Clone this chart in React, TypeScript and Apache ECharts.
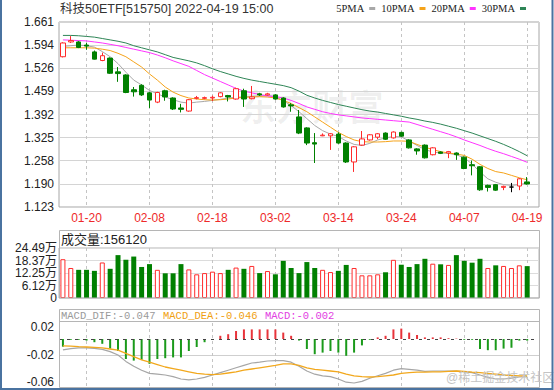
import React, { useEffect, useRef } from "react";
import * as echarts from "echarts";

// ---------- data ----------
const dates = [
  "01-17","01-18","01-19","01-20","01-21","01-24","01-25","01-26","01-27","01-28",
  "02-07","02-08","02-09","02-10","02-11","02-14","02-15","02-16","02-17","02-18",
  "02-21","02-22","02-23","02-24","02-25","02-28","03-01","03-02","03-03","03-04",
  "03-07","03-08","03-09","03-10","03-11","03-14","03-15","03-16","03-17","03-18",
  "03-21","03-22","03-23","03-24","03-25","03-28","03-29","03-30","03-31","04-01",
  "04-06","04-07","04-08","04-11","04-12","04-13","04-14","04-15","04-18","04-19",
];

// [open, close, low, high]
const candles = [
  [1.560,1.600,1.558,1.602],[1.603,1.607,1.600,1.620],[1.603,1.587,1.585,1.606],[1.594,1.591,1.580,1.600],
  [1.574,1.553,1.552,1.578],[1.549,1.563,1.547,1.572],[1.556,1.512,1.510,1.558],[1.516,1.511,1.487,1.530],
  [1.507,1.456,1.454,1.509],[1.464,1.458,1.444,1.472],[1.477,1.449,1.446,1.480],[1.455,1.434,1.411,1.458],
  [1.428,1.456,1.425,1.458],[1.461,1.443,1.432,1.464],[1.440,1.408,1.405,1.442],[1.411,1.407,1.398,1.423],
  [1.402,1.435,1.400,1.437],[1.439,1.441,1.436,1.446],[1.439,1.441,1.436,1.444],[1.440,1.442,1.431,1.447],
  [1.444,1.455,1.442,1.457],[1.447,1.443,1.430,1.449],[1.437,1.467,1.435,1.470],[1.461,1.437,1.414,1.467],
  [1.438,1.443,1.436,1.475],[1.452,1.449,1.446,1.455],[1.449,1.452,1.447,1.455],[1.449,1.437,1.435,1.451],
  [1.440,1.414,1.412,1.442],[1.420,1.417,1.400,1.425],[1.385,1.338,1.335,1.405],[1.353,1.309,1.303,1.355],
  [1.310,1.306,1.251,1.338],[1.330,1.332,1.329,1.337],[1.330,1.336,1.289,1.338],[1.335,1.309,1.307,1.340],
  [1.309,1.254,1.251,1.311],[1.254,1.298,1.225,1.300],[1.303,1.321,1.301,1.344],[1.318,1.333,1.316,1.335],
  [1.326,1.336,1.320,1.338],[1.338,1.320,1.318,1.340],[1.324,1.341,1.322,1.343],[1.340,1.329,1.327,1.342],
  [1.318,1.295,1.293,1.320],[1.292,1.286,1.275,1.294],[1.303,1.266,1.264,1.305],[1.275,1.295,1.273,1.297],
  [1.283,1.279,1.277,1.285],[1.280,1.284,1.265,1.286],[1.280,1.275,1.260,1.282],[1.268,1.235,1.233,1.270],
  [1.246,1.243,1.215,1.258],[1.240,1.173,1.170,1.242],[1.186,1.180,1.168,1.188],[1.188,1.172,1.170,1.190],
  [1.180,1.183,1.172,1.185],[1.181,1.181,1.166,1.193],[1.184,1.205,1.172,1.207],[1.196,1.190,1.188,1.210],
];

const ma5 = [1.590,1.592,1.594,1.592,1.588,1.575,1.560,1.540,1.515,1.492,1.478,1.462,1.452,1.443,1.435,1.428,1.425,1.428,1.430,1.433,
  1.436,1.440,1.442,1.443,1.445,1.446,1.447,1.444,1.432,1.418,1.400,1.380,1.360,1.345,1.335,1.328,1.315,1.305,1.302,1.308,
  1.318,1.324,1.328,1.327,1.315,1.302,1.290,1.283,1.280,1.279,1.275,1.266,1.248,1.225,1.205,1.195,1.188,1.186,1.188,1.193];
const ma10 = [1.586,1.586,1.586,1.586,1.585,1.582,1.578,1.570,1.560,1.545,1.530,1.510,1.492,1.472,1.457,1.447,1.440,1.437,1.435,1.434,
  1.435,1.437,1.440,1.442,1.443,1.444,1.443,1.440,1.433,1.424,1.412,1.400,1.385,1.370,1.355,1.340,1.328,1.318,1.313,1.312,
  1.312,1.313,1.315,1.315,1.314,1.305,1.297,1.290,1.284,1.280,1.277,1.273,1.262,1.247,1.235,1.226,1.222,1.215,1.208,1.202];
const ma20 = [1.609,1.608,1.607,1.606,1.603,1.600,1.596,1.592,1.587,1.582,1.577,1.572,1.565,1.557,1.548,1.540,1.532,1.520,1.508,1.498,
  1.488,1.478,1.468,1.460,1.455,1.450,1.446,1.444,1.440,1.433,1.424,1.414,1.407,1.400,1.395,1.391,1.388,1.385,1.382,1.380,
  1.378,1.376,1.374,1.372,1.370,1.363,1.356,1.349,1.342,1.335,1.327,1.318,1.310,1.302,1.293,1.285,1.278,1.270,1.262,1.253];
const ma30 = [1.622,1.622,1.621,1.619,1.617,1.613,1.609,1.605,1.600,1.592,1.586,1.580,1.574,1.566,1.558,1.553,1.548,1.542,1.534,1.525,
  1.517,1.510,1.503,1.497,1.492,1.488,1.484,1.480,1.476,1.470,1.460,1.448,1.440,1.433,1.427,1.421,1.416,1.411,1.406,1.402,
  1.399,1.395,1.391,1.387,1.382,1.378,1.373,1.369,1.364,1.358,1.352,1.345,1.338,1.330,1.322,1.314,1.305,1.295,1.284,1.272];

const volumes = [190000,147000,138000,138000,133000,174000,143000,210000,187000,203000,152000,166000,138000,121000,121000,166000,140000,116000,122000,129000,
  122000,138000,149000,143000,157000,122000,132000,116000,182000,147000,122000,176000,147000,138000,127000,133000,162000,147000,111000,111000,
  116000,126000,187000,163000,152000,166000,192000,168000,165000,162000,210000,182000,173000,192000,147000,160000,157000,147000,160000,156120];
const volumeUp = [1,1,0,0,0,1,0,0,0,0,0,0,1,0,0,0,1,1,1,1,
  1,0,1,0,1,0,1,0,0,0,0,0,0,1,1,0,0,1,1,1,
  1,0,1,0,0,0,0,1,0,1,0,0,0,0,1,0,1,1,1,0];

const dif = [-0.0135,-0.012,-0.011,-0.0112,-0.0118,-0.013,-0.0158,-0.020,-0.028,-0.034,-0.039,-0.043,-0.044,-0.045,-0.047,-0.050,-0.051,-0.050,-0.048,-0.045,
  -0.042,-0.039,-0.036,-0.033,-0.030,-0.029,-0.0275,-0.027,-0.027,-0.029,-0.034,-0.040,-0.044,-0.046,-0.047,-0.050,-0.054,-0.055,-0.053,-0.049,
  -0.046,-0.043,-0.039,-0.037,-0.038,-0.039,-0.0405,-0.040,-0.040,-0.040,-0.040,-0.041,-0.042,-0.045,-0.048,-0.050,-0.050,-0.049,-0.0475,-0.047];
const dea = [-0.0085,-0.009,-0.0096,-0.010,-0.0105,-0.011,-0.0125,-0.014,-0.018,-0.022,-0.026,-0.029,-0.032,-0.035,-0.037,-0.039,-0.041,-0.043,-0.044,-0.0445,
  -0.044,-0.0425,-0.041,-0.039,-0.0375,-0.036,-0.0345,-0.033,-0.031,-0.031,-0.033,-0.036,-0.038,-0.039,-0.040,-0.041,-0.044,-0.046,-0.047,-0.0475,
  -0.047,-0.046,-0.045,-0.043,-0.042,-0.0415,-0.0415,-0.041,-0.041,-0.0405,-0.040,-0.0405,-0.0415,-0.042,-0.043,-0.044,-0.045,-0.0455,-0.046,-0.046];
const macdHist = [-0.0096,-0.001,-0.001,-0.002,-0.004,-0.006,-0.012,-0.015,-0.025,-0.027,-0.026,-0.031,-0.025,-0.024,-0.023,-0.023,-0.015,-0.010,-0.004,-0.0005,
  0.004,0.006,0.010,0.012,0.012,0.012,0.012,0.012,0.008,0.004,-0.002,-0.0125,-0.019,-0.017,-0.015,-0.017,-0.021,-0.017,-0.008,-0.001,
  0.002,0.004,0.012,0.013,0.008,0.005,0.002,0.002,0.002,0.001,0.0005,-0.001,-0.001,-0.0125,-0.014,-0.014,-0.012,-0.011,-0.002,-0.002];

const priceTicks = ["1.123","1.190","1.258","1.325","1.392","1.459","1.526","1.594","1.661"];
const volumeTicks = ["0","6.12万","12.25万","18.37万","24.49万"];
const macdTicks = ["-0.06","","-0.02","","0.02"];

const PRICE_MIN = 1.123, PRICE_MAX = 1.661, PRICE_STEP = 0.06725;
const VOL_MAX = 244900, VOL_STEP = 61225;
const MACD_MIN = -0.06, MACD_MAX = 0.02, MACD_STEP = 0.02;

const TITLE = "科技50ETF[515750] 2022-04-19 15:00";
const VOL_TITLE = "成交量:156120";
const MACD_TITLES = ["MACD_DIF:-0.047", "MACD_DEA:-0.046", "MACD:-0.002"];

// ---------- styles ----------
const FONT = "'Liberation Sans', 'Noto Sans CJK SC', sans-serif";
const RED = "#ff2b2b";
const GREEN = "#008000";
const C_MA5 = "#a8a8a8", C_MA10 = "#f5a31a", C_MA20 = "#ff33ff", C_MA30 = "#2e8556";

const cats = [...dates, ""];
const showCat = (i: number) => i >= 3 && i < dates.length && (i - 3) % 8 === 0;

function xAxisFor(grid: number, labels: boolean) {
  return {
    type: "category",
    gridIndex: grid,
    data: cats,
    boundaryGap: true,
    axisLine: { show: false },
    axisTick: { show: false },
    axisLabel: {
      show: labels,
      interval: (i: number) => showCat(i),
      color: "#ee2a2a",
      fontSize: 12,
      margin: 5,
      fontFamily: FONT,
    },
    splitLine: {
      show: true,
      interval: (i: number) => showCat(i),
      alignWithLabel: true,
      lineStyle: { type: [3, 3], color: "#c4c4c4", width: 1 },
    },
  };
}

export default function App() {
  const ref = useRef<HTMLDivElement>(null);
  useEffect(() => {
    document.body.style.margin = "0";
    const chart = echarts.init(ref.current!, null, { renderer: "svg" });

    const maLine = (name: string, data: number[], color: string) => ({
      name,
      type: "line",
      xAxisIndex: 0,
      yAxisIndex: 0,
      data,
      symbol: "none",
      showSymbol: false,
      lineStyle: { color, width: 1 },
      itemStyle: { color },
      z: 3,
    });

    const option: any = {
      animation: false,
      backgroundColor: "#ffffff",
      textStyle: { fontFamily: FONT },
      legend: {
        data: ["5PMA", "10PMA", "20PMA", "30PMA"],
        top: 3,
        right: 28,
        icon: "rect",
        itemWidth: 6,
        itemHeight: 3,
        itemGap: 6,
        align: "right",
        selectedMode: false,
        padding: 0,
        textStyle: { fontSize: 10.5, color: "#222", fontFamily: "'Liberation Serif', serif", padding: [0, 0, 0, 0] },
      },
      grid: [
        { left: 59, right: 15, top: 22, height: 185, show: true, borderColor: "#a6a6a6", borderWidth: 1, backgroundColor: "transparent", outerBoundsMode: "none" },
        { left: 59, right: 15, top: 248, height: 50, show: true, borderColor: "#b5b5b5", borderWidth: 1, backgroundColor: "transparent", outerBoundsMode: "none" },
        { left: 59, right: 15, top: 323, height: 64, show: false, outerBoundsMode: "none" },
      ],
      xAxis: [xAxisFor(0, true), xAxisFor(1, false), xAxisFor(2, false)],
      yAxis: [
        {
          type: "value", gridIndex: 0, min: PRICE_MIN, max: PRICE_MAX, interval: PRICE_STEP,
          axisLine: { show: false }, axisTick: { show: false },
          axisLabel: {
            formatter: (v: number) => priceTicks[Math.round((v - PRICE_MIN) / PRICE_STEP)] ?? "",
            color: "#222", fontSize: 12, margin: 5, fontFamily: FONT,
            showMinLabel: true, showMaxLabel: true, hideOverlap: false,
          },
          splitLine: { show: true, lineStyle: { color: "#d4d4d4", width: 1 } },
        },
        {
          type: "value", gridIndex: 1, min: 0, max: VOL_MAX, interval: VOL_STEP,
          axisLine: { show: false }, axisTick: { show: false },
          axisLabel: {
            formatter: (v: number) => volumeTicks[Math.round(v / VOL_STEP)] ?? "",
            color: "#222", fontSize: 12, margin: 2, fontFamily: FONT, lineHeight: 12,
            showMinLabel: true, showMaxLabel: true, hideOverlap: false,
          },
          splitLine: { show: true, lineStyle: { color: "#dcdcdc", width: 1 } },
        },
        {
          type: "value", gridIndex: 2, min: MACD_MIN, max: MACD_MAX, interval: MACD_STEP,
          axisLine: { show: false }, axisTick: { show: false },
          axisLabel: {
            formatter: (v: number) => {
              const idx = Math.round((v - MACD_MIN) / MACD_STEP);
              const t = macdTicks[idx] ?? "";
              if (!t) return "";
              if (idx === macdTicks.length - 1) return "{t|" + t + "}";
              if (idx === 0) return "{b|" + t + "}";
              return t;
            },
            rich: {
              t: { padding: [8, 0, 0, 0], fontSize: 12, color: "#222", fontFamily: FONT },
              b: { padding: [0, 0, 10, 0], fontSize: 12, color: "#222", fontFamily: FONT },
            },
            color: "#222", fontSize: 12, margin: 5, fontFamily: FONT,
            showMinLabel: true, showMaxLabel: true, hideOverlap: false,
          },
          splitLine: {
            show: true,
            lineStyle: { color: ["transparent", "transparent", "#cfcfcf", "transparent", "transparent"], width: 1 },
          },
        },
      ],
      series: [
        {
          name: "K",
          type: "candlestick",
          xAxisIndex: 0,
          yAxisIndex: 0,
          data: candles,
          barWidth: 5,
          itemStyle: {
            color: "#ffffff",
            color0: GREEN,
            borderColor: RED,
            borderColor0: GREEN,
            borderColorDoji: "#000000",
            borderWidth: 1,
          },
          z: 4,
        },
        maLine("5PMA", ma5, C_MA5),
        maLine("10PMA", ma10, C_MA10),
        maLine("20PMA", ma20, C_MA20),
        maLine("30PMA", ma30, C_MA30),
        {
          name: "VOL",
          type: "bar",
          xAxisIndex: 1,
          yAxisIndex: 1,
          barWidth: 5,
          data: volumes.map((v, i) => ({
            value: v,
            itemStyle: volumeUp[i]
              ? { color: "#ffffff", borderColor: RED, borderWidth: 1 }
              : { color: GREEN, borderColor: GREEN, borderWidth: 0 },
          })),
        },
        {
          name: "MACD",
          type: "bar",
          xAxisIndex: 2,
          yAxisIndex: 2,
          barWidth: 2,
          data: macdHist.map((v) => ({ value: v, itemStyle: { color: v >= 0 ? "#e8333a" : "#1a9a1a" } })),
          markLine: {
            silent: true,
            symbol: ["none", "none"],
            label: { show: false },
            lineStyle: { type: [3, 5], color: "#444", width: 1 },
            data: [{ yAxis: 0 }],
          },
        },
        {
          name: "DIF",
          type: "line",
          xAxisIndex: 2,
          yAxisIndex: 2,
          data: dif,
          symbol: "none",
          lineStyle: { color: "#a6a6a6", width: 1.2 },
        },
        {
          name: "DEA",
          type: "line",
          xAxisIndex: 2,
          yAxisIndex: 2,
          data: dea,
          symbol: "none",
          lineStyle: { color: "#f2a81d", width: 1.3 },
        },
      ],
      graphic: [
        {
          type: "text", left: 240, top: 90, z: 0, silent: true,
          style: { text: "东方财富", fontSize: 36, fontWeight: "bold", fill: "rgba(0,0,0,0.06)", fontFamily: FONT },
        },
        {
          type: "text", x: 60, y: 9, silent: true,
          style: { text: TITLE, fontSize: 12.5, fill: "#333", verticalAlign: "middle", fontFamily: FONT },
        },
        {
          type: "rect", silent: true, z: 10,
          shape: { x: 59.5, y: 230.5, width: 480, height: 67.5 },
          style: { fill: "none", stroke: "#b5b5b5", lineWidth: 1 },
        },
        {
          type: "text", x: 61, y: 239.5, silent: true,
          style: { text: VOL_TITLE, fontSize: 13, fill: "#222", verticalAlign: "middle", fontFamily: FONT },
        },
        {
          type: "rect", silent: true, z: 10,
          shape: { x: 59.5, y: 309.5, width: 480, height: 78 },
          style: { fill: "none", stroke: "#b5b5b5", lineWidth: 1 },
        },
        {
          type: "line", silent: true, z: 10,
          shape: { x1: 59.5, y1: 321.5, x2: 539.5, y2: 321.5 },
          style: { stroke: "#b5b5b5", lineWidth: 1 },
        },
        {
          type: "text", x: 61, y: 315.5, silent: true,
          style: { text: MACD_TITLES[0], fontSize: 10.5, fill: "#9a9a9a", verticalAlign: "middle", fontFamily: "'Liberation Mono', monospace" },
        },
        {
          type: "text", x: 163, y: 315.5, silent: true,
          style: { text: MACD_TITLES[1], fontSize: 10.5, fill: "#f0a010", verticalAlign: "middle", fontFamily: "'Liberation Mono', monospace" },
        },
        {
          type: "text", x: 265, y: 315.5, silent: true,
          style: { text: MACD_TITLES[2], fontSize: 10.5, fill: "#e23ce2", verticalAlign: "middle", fontFamily: "'Liberation Mono', monospace" },
        },
        {
          type: "text", x: 446, y: 378, silent: true, z: 20,
          style: { text: "@稀土掘金技术社区", fontSize: 12, fill: "#c4c4c4", verticalAlign: "middle", fontFamily: FONT },
        },
        {
          type: "rect", silent: true, z: 30,
          shape: { x: 1, y: -10, width: 551.5, height: 399 },
          style: { fill: "none", stroke: "#4a73a0", lineWidth: 2 },
        },
      ],
    };

    chart.setOption(option);
    return () => chart.dispose();
  }, []);

  return <div ref={ref} style={{ width: 554, height: 390 }} />;
}
